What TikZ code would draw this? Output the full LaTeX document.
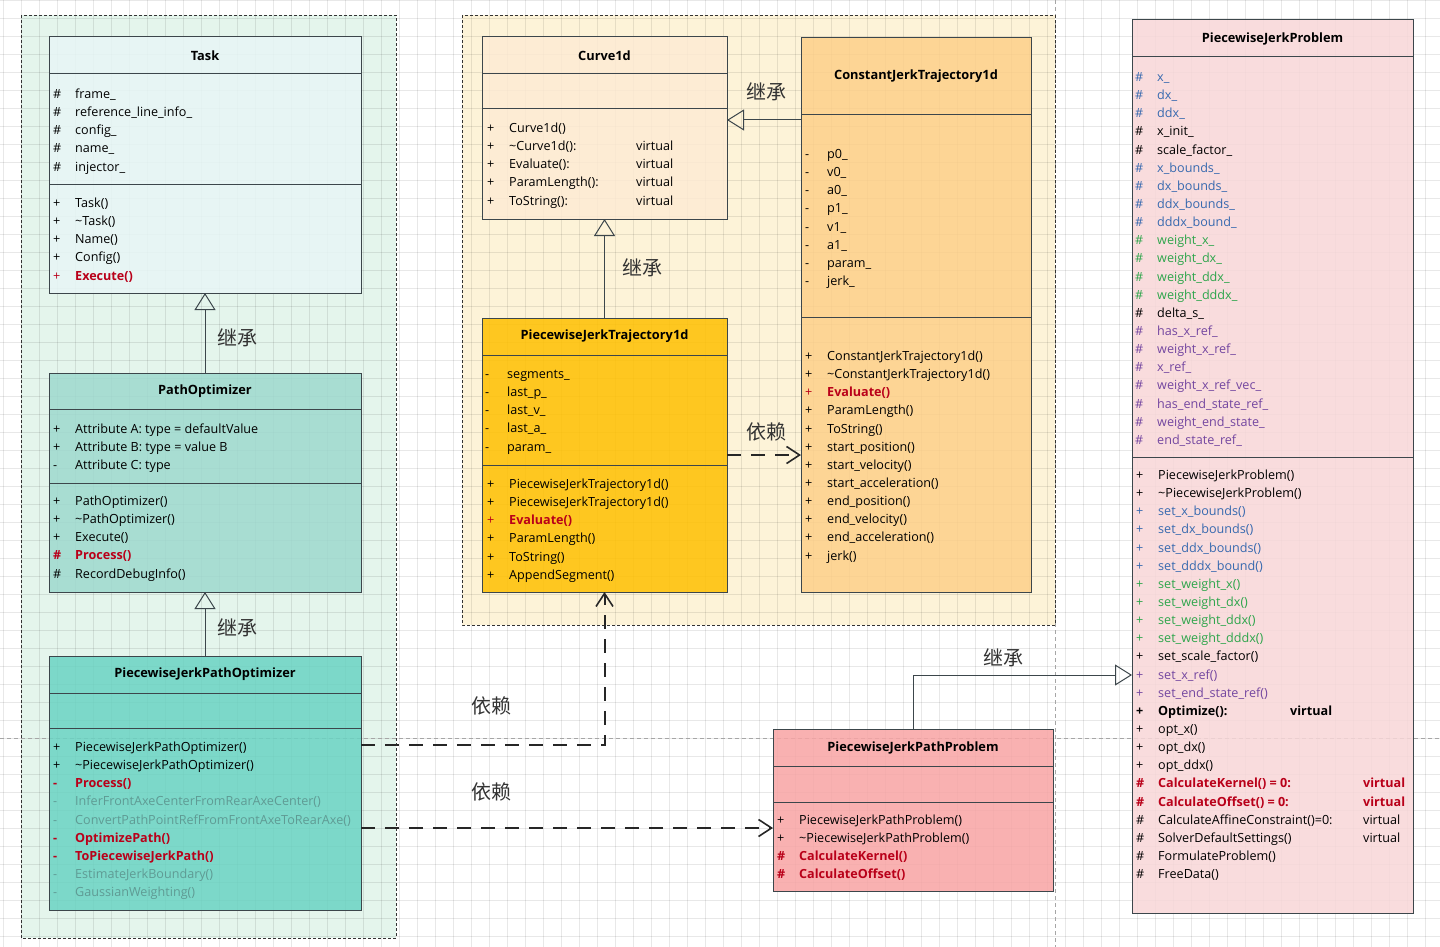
\documentclass[tikz,border=0pt]{standalone}
\usepackage{fontspec}
\setmainfont{Open Sans}
\newfontfamily\cjk{Noto Sans CJK SC}
\usetikzlibrary{arrows.meta,positioning}

\definecolor{linec}{RGB}{60,70,75}
\definecolor{greenbg}{RGB}{228,245,236}
\definecolor{yellowbg}{RGB}{253,243,216}
\definecolor{taskc}{RGB}{232,246,246}
\definecolor{poc}{RGB}{158,217,206}
\definecolor{pjpoc}{RGB}{106,211,195}
\definecolor{curvec}{RGB}{253,235,212}
\definecolor{cjtc}{RGB}{253,208,138}
\definecolor{pjtc}{RGB}{255,192,0}
\definecolor{pjpc}{RGB}{248,215,216}
\definecolor{pjppc}{RGB}{248,164,164}
\definecolor{redc}{RGB}{185,0,25}
\definecolor{bluec}{RGB}{55,105,175}
\definecolor{greenc}{RGB}{45,165,75}
\definecolor{purplec}{RGB}{115,70,160}
\definecolor{grayc}{RGB}{95,155,148}

% one line of a class compartment: visibility, name
\newcommand\mem[3][black]{\textcolor{#1}{\makebox[22pt][l]{#2}#3}\strut}
\newcommand\memb[3][redc]{\textcolor{#1}{\bfseries\makebox[22pt][l]{#2}#3}\strut}
\newcommand\virt[2]{\makebox[#1][l]{#2}virtual}

\begin{document}
\begin{tikzpicture}[x=1pt,y=-1pt,
  head/.style={draw=linec, line width=1pt, anchor=north west, inner sep=0pt, outer sep=0pt,
    fill opacity=.85, text opacity=1, font=\bfseries\fontsize{12.8}{14}\selectfont},
  part/.style={draw=linec, line width=1pt, anchor=north west, inner sep=0pt, outer sep=0pt, fill opacity=.85},
  members/.style={anchor=north west, inner sep=0pt, align=left, font=\fontsize{12.6}{18.15}\selectfont},
  lbl/.style={inner sep=0pt, font=\cjk\fontsize{20}{20}\selectfont, text=black!80},
  inherit/.style={draw=linec, line width=1pt, -{Triangle[open, length=17pt, width=21pt]}},
  depend/.style={draw=black!85, line width=2pt, dash pattern=on 14pt off 10pt,
    -{Straight Barb[length=13pt, width=17pt, line width=1.6pt]}},
  gridline/.style={draw=black, opacity=.09, line width=.6pt},
  pagebreak/.style={draw=black!35, dash pattern=on 4pt off 3pt, line width=.6pt},
  group/.style={draw=black!80, dash pattern=on 3pt off 2pt, line width=.9pt}]

  \useasboundingbox (0,0) rectangle (1440,947);
  \fill[white] (0,0) rectangle (1440,947);

  % groups
  \fill[greenbg] (21,15) rectangle (396,938);
  \fill[yellowbg] (462,15) rectangle (1055,625);

  % grid
  \foreach \gx in {3,21,...,1440} \draw[gridline] (\gx,0) -- (\gx,947);
  \foreach \gy in {0,18,...,947} \draw[gridline] (0,\gy) -- (1440,\gy);
  \draw[pagebreak] (0,738) -- (1440,738);
  \draw[pagebreak] (1055,0) -- (1055,947);

  \draw[group] (21,15) rectangle (396,938);
  \draw[group] (462,15) rectangle (1055,625);

  % Task
  \node[head, fill=taskc, minimum width=312pt, minimum height=37pt] (task) at (49,37) {Task};
  \node[part, fill=taskc, minimum width=312pt, minimum height=110pt] (task-a) at (task.south west) {};
  \node[part, fill=taskc, minimum width=312pt, minimum height=109pt] (task-m) at (task-a.south west) {};
  \node[members] (task-at) at (53,85.5) {\mem{\#}{frame\_}\\\mem{\#}{reference\_line\_info\_}\\
    \mem{\#}{config\_}\\\mem{\#}{name\_}\\\mem{\#}{injector\_}};
  \node[members] (task-mt) at (53,194.5) {\mem{+}{Task()}\\\mem{+}{\textasciitilde Task()}\\
    \mem{+}{Name()}\\\mem{+}{Config()}\\\mem[redc]{+}{\textbf{Execute()}}};

  % PathOptimizer
  \node[head, fill=poc, minimum width=312pt, minimum height=36pt] (po) at (49,373) {PathOptimizer};
  \node[part, fill=poc, minimum width=312pt, minimum height=74pt] (po-a) at (po.south west) {};
  \node[part, fill=poc, minimum width=312pt, minimum height=109pt] (po-m) at (po-a.south west) {};
  \node[members] (po-at) at (53,420.5) {\mem{+}{Attribute A: type = defaultValue}\\
    \mem{+}{Attribute B: type = value B}\\\mem{-}{Attribute C: type}};
  \node[members] (po-mt) at (53,492.5) {\mem{+}{PathOptimizer()}\\\mem{+}{\textasciitilde PathOptimizer()}\\
    \mem{+}{Execute()}\\\memb{\#}{Process()}\\\mem{\#}{RecordDebugInfo()}};

  % PiecewiseJerkPathOptimizer
  \node[head, fill=pjpoc, minimum width=312pt, minimum height=37pt] (pjpo) at (49,656) {PiecewiseJerkPathOptimizer};
  \node[part, fill=pjpoc, minimum width=312pt, minimum height=35pt] (pjpo-a) at (pjpo.south west) {};
  \node[part, fill=pjpoc, minimum width=312pt, minimum height=182pt] (pjpo-m) at (pjpo-a.south west) {};
  \node[members] (pjpo-mt) at (53,738.5) {\mem{+}{PiecewiseJerkPathOptimizer()}\\
    \mem{+}{\textasciitilde PiecewiseJerkPathOptimizer()}\\\memb{-}{Process()}\\
    \mem[grayc]{-}{InferFrontAxeCenterFromRearAxeCenter()}\\
    \mem[grayc]{-}{ConvertPathPointRefFromFrontAxeToRearAxe()}\\
    \memb{-}{OptimizePath()}\\\memb{-}{ToPiecewiseJerkPath()}\\
    \mem[grayc]{-}{EstimateJerkBoundary()}\\\mem[grayc]{-}{GaussianWeighting()}};

  % Curve1d
  \node[head, fill=curvec, minimum width=245pt, minimum height=37pt] (curve) at (482,37) {Curve1d};
  \node[part, fill=curvec, minimum width=245pt, minimum height=35pt] (curve-a) at (curve.south west) {};
  \node[part, fill=curvec, minimum width=245pt, minimum height=110pt] (curve-m) at (curve-a.south west) {};
  \node[members] (curve-mt) at (487,119.5) {\mem{+}{Curve1d()}\\\mem{+}{\virt{127pt}{\textasciitilde Curve1d():}}\\
    \mem{+}{\virt{127pt}{Evaluate():}}\\\mem{+}{\virt{127pt}{ParamLength():}}\\\mem{+}{\virt{127pt}{ToString():}}};

  % ConstantJerkTrajectory1d
  \node[head, fill=cjtc, minimum width=230pt, minimum height=77pt] (cjt) at (801,38) {ConstantJerkTrajectory1d};
  \node[part, fill=cjtc, minimum width=230pt, minimum height=202pt] (cjt-a) at (cjt.south west) {};
  \node[part, fill=cjtc, minimum width=230pt, minimum height=275pt] (cjt-m) at (cjt-a.south west) {};
  \node[members] (cjt-at) at (805,145.5) {\mem{-}{p0\_}\\\mem{-}{v0\_}\\\mem{-}{a0\_}\\\mem{-}{p1\_}\\
    \mem{-}{v1\_}\\\mem{-}{a1\_}\\\mem{-}{param\_}\\\mem{-}{jerk\_}};
  \node[members] (cjt-mt) at (805,347.5) {\mem{+}{ConstantJerkTrajectory1d()}\\
    \mem{+}{\textasciitilde ConstantJerkTrajectory1d()}\\\mem[redc]{+}{\textbf{Evaluate()}}\\
    \mem{+}{ParamLength()}\\\mem{+}{ToString()}\\\mem{+}{start\_position()}\\
    \mem{+}{start\_velocity()}\\\mem{+}{start\_acceleration()}\\\mem{+}{end\_position()}\\
    \mem{+}{end\_velocity()}\\\mem{+}{end\_acceleration()}\\\mem{+}{jerk()}};

  % PiecewiseJerkTrajectory1d
  \node[head, fill=pjtc, minimum width=245pt, minimum height=37pt] (pjt) at (482,318) {PiecewiseJerkTrajectory1d};
  \node[part, fill=pjtc, minimum width=245pt, minimum height=110pt] (pjt-a) at (pjt.south west) {};
  \node[part, fill=pjtc, minimum width=245pt, minimum height=127pt] (pjt-m) at (pjt-a.south west) {};
  \node[members] (pjt-at) at (485,365.5) {\mem{-}{segments\_}\\\mem{-}{last\_p\_}\\\mem{-}{last\_v\_}\\
    \mem{-}{last\_a\_}\\\mem{-}{param\_}};
  \node[members] (pjt-mt) at (487,475.5) {\mem{+}{PiecewiseJerkTrajectory1d()}\\
    \mem{+}{PiecewiseJerkTrajectory1d()}\\\mem[redc]{+}{\textbf{Evaluate()}}\\
    \mem{+}{ParamLength()}\\\mem{+}{ToString()}\\\mem{+}{AppendSegment()}};

  % PiecewiseJerkProblem
  \node[head, fill=pjpc, minimum width=281pt, minimum height=37pt] (pjp) at (1132,20) {PiecewiseJerkProblem};
  \node[part, fill=pjpc, minimum width=281pt, minimum height=400pt] (pjp-a) at (pjp.south west) {};
  \node[part, fill=pjpc, minimum width=281pt, minimum height=456pt] (pjp-m) at (pjp-a.south west) {};
  \node[members] (pjp-at) at (1135,68.5) {\mem[bluec]{\#}{x\_}\\\mem[bluec]{\#}{dx\_}\\\mem[bluec]{\#}{ddx\_}\\
    \mem{\#}{x\_init\_}\\\mem{\#}{scale\_factor\_}\\\mem[bluec]{\#}{x\_bounds\_}\\
    \mem[bluec]{\#}{dx\_bounds\_}\\\mem[bluec]{\#}{ddx\_bounds\_}\\\mem[bluec]{\#}{dddx\_bound\_}\\
    \mem[greenc]{\#}{weight\_x\_}\\\mem[greenc]{\#}{weight\_dx\_}\\\mem[greenc]{\#}{weight\_ddx\_}\\
    \mem[greenc]{\#}{weight\_dddx\_}\\\mem{\#}{delta\_s\_}\\\mem[purplec]{\#}{has\_x\_ref\_}\\
    \mem[purplec]{\#}{weight\_x\_ref\_}\\\mem[purplec]{\#}{x\_ref\_}\\\mem[purplec]{\#}{weight\_x\_ref\_vec\_}\\
    \mem[purplec]{\#}{has\_end\_state\_ref\_}\\\mem[purplec]{\#}{weight\_end\_state\_}\\
    \mem[purplec]{\#}{end\_state\_ref\_}};
  \node[members] (pjp-mt) at (1136,466.5) {\mem{+}{PiecewiseJerkProblem()}\\
    \mem{+}{\textasciitilde PiecewiseJerkProblem()}\\\mem[bluec]{+}{set\_x\_bounds()}\\
    \mem[bluec]{+}{set\_dx\_bounds()}\\\mem[bluec]{+}{set\_ddx\_bounds()}\\\mem[bluec]{+}{set\_dddx\_bound()}\\
    \mem[greenc]{+}{set\_weight\_x()}\\\mem[greenc]{+}{set\_weight\_dx()}\\\mem[greenc]{+}{set\_weight\_ddx()}\\
    \mem[greenc]{+}{set\_weight\_dddx()}\\\mem{+}{set\_scale\_factor()}\\\mem[purplec]{+}{set\_x\_ref()}\\
    \mem[purplec]{+}{set\_end\_state\_ref()}\\\memb[black]{+}{\virt{132pt}{Optimize():}}\\
    \mem{+}{opt\_x()}\\\mem{+}{opt\_dx()}\\\mem{+}{opt\_ddx()}\\
    \memb{\#}{\virt{205pt}{CalculateKernel() = 0:}}\\\memb{\#}{\virt{205pt}{CalculateOffset() = 0:}}\\
    \mem{\#}{\virt{205pt}{CalculateAffineConstraint()=0:}}\\\mem{\#}{\virt{205pt}{SolverDefaultSettings()}}\\
    \mem{\#}{FormulateProblem()}\\\mem{\#}{FreeData()}};

  % PiecewiseJerkPathProblem
  \node[head, fill=pjppc, minimum width=280pt, minimum height=37pt] (pjpp) at (773,729) {PiecewiseJerkPathProblem};
  \node[part, fill=pjppc, minimum width=280pt, minimum height=36pt] (pjpp-a) at (pjpp.south west) {};
  \node[part, fill=pjppc, minimum width=280pt, minimum height=89pt] (pjpp-m) at (pjpp-a.south west) {};
  \node[members] (pjpp-mt) at (777,811.5) {\mem{+}{PiecewiseJerkPathProblem()}\\
    \mem{+}{\textasciitilde PiecewiseJerkPathProblem()}\\\memb{\#}{CalculateKernel()}\\\memb{\#}{CalculateOffset()}};

  % connectors
  \draw[inherit] (po.north) -- (task-m.south);
  \draw[inherit] (pjpo.north) -- (po-m.south);
  \draw[inherit] (pjt.north) -- (curve-m.south);
  \draw[inherit] ([yshift=-5pt]cjt-a.north west) -- ([yshift=-5pt]cjt-a.north west -| curve-m.east);
  \coordinate (pjp-in) at ([yshift=-218pt]pjp-m.north west);
  \draw[inherit] (pjpp.north) |- (pjp-in);
  \draw[depend] ([yshift=10pt]pjt-a.south east) -- ([yshift=10pt]pjt-a.south east -| cjt-m.west);
  \draw[depend] ([yshift=-17pt]pjpo-m.north east) -| (pjt-m.south);
  \draw[depend] ([yshift=-26pt]pjpp-m.north west -| pjpo-m.east) -- ([yshift=-26pt]pjpp-m.north west);

  % labels
  \node[lbl] (lbl-po) at (237,338) {继承};
  \node[lbl] (lbl-pjpo) at (237,628) {继承};
  \node[lbl] (lbl-cjt) at (766,92) {继承};
  \node[lbl] (lbl-pjt) at (642,268) {继承};
  \node[lbl] (lbl-pjpp) at (1003,658) {继承};
  \node[lbl] (lbl-dep1) at (766,432) {依赖};
  \node[lbl] (lbl-dep2) at (491,706) {依赖};
  \node[lbl] (lbl-dep3) at (491,792) {依赖};
\end{tikzpicture}
\end{document}
